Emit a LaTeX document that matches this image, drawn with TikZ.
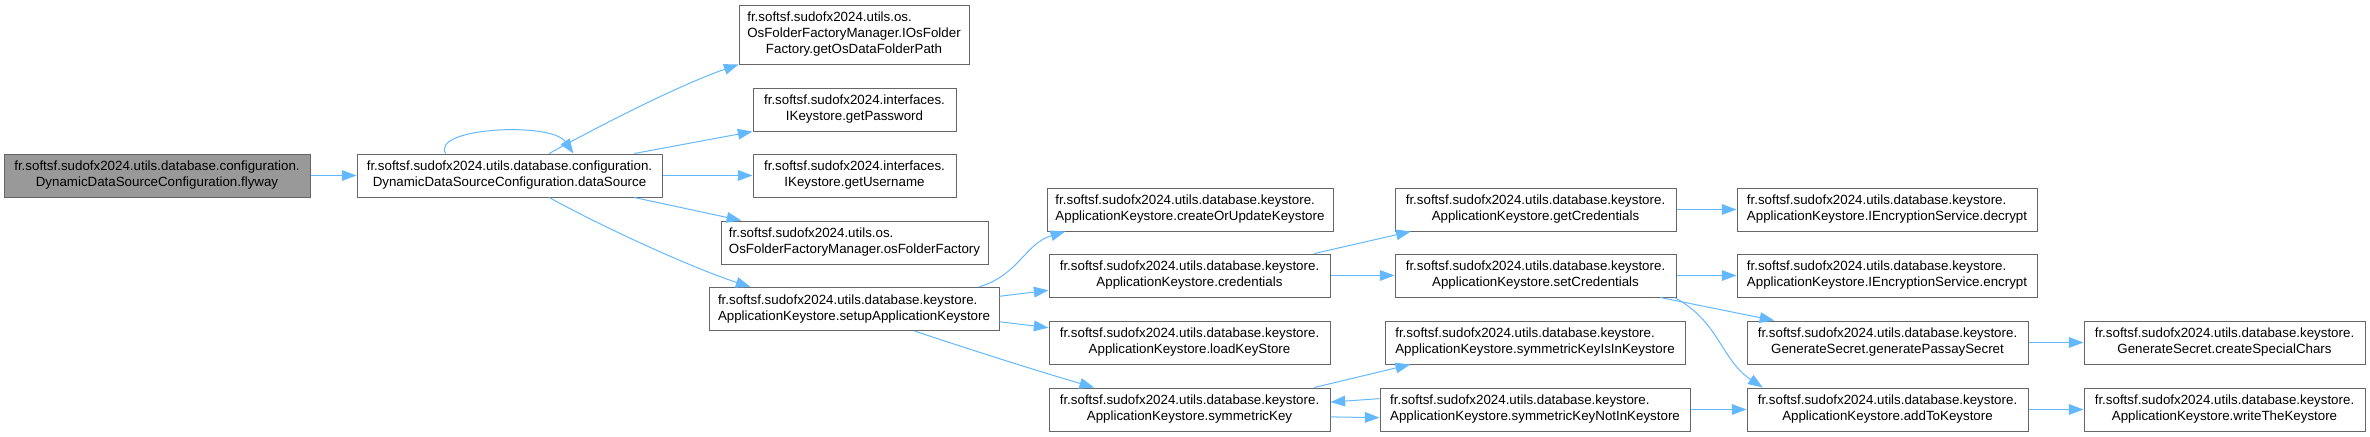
\documentclass[tikz,border=0pt]{standalone}
\usepackage{fontspec}
\setmainfont{Liberation Sans}
\usetikzlibrary{arrows.meta}
\definecolor{edgeblue}{HTML}{63B8FF}
\definecolor{nodeborder}{HTML}{666666}
\definecolor{rootfill}{HTML}{999999}
\newcommand{\twol}[2]{\begin{tabular}{@{}l@{}}#1\\\multicolumn{1}{@{}c@{}}{#2}\end{tabular}}
\newcommand{\threel}[3]{\begin{tabular}{@{}l@{}}#1\\#2\\\multicolumn{1}{@{}c@{}}{#3}\end{tabular}}
\newcommand{\ks}{fr.softsf.sudofx2024.utils.database.keystore.}
\newcommand{\cfg}{fr.softsf.sudofx2024.utils.database.configuration.}
\begin{document}
\begin{tikzpicture}[x=0.75pt,y=-0.75pt,
  box/.style={draw=nodeborder, line width=0.75pt, fill=white, rectangle, inner xsep=2pt, inner ysep=0pt,
    minimum height=32.25pt, font=\fontsize{10}{12}\selectfont, text=black},
  wpx/.style={minimum width=#1*0.75pt},
  hpx/.style={minimum height=#1*0.75pt},
  root/.style={box, fill=rootfill},
  call/.style={draw=edgeblue, line width=0.75pt, -{Triangle[length=11pt,width=8pt]}}]
\useasboundingbox (0,0) rectangle (2370,436);

\node[root, wpx=306] (fw) at (157,175.5) {\twol{\cfg}{DynamicDataSourceConfiguration.flyway}};
\node[box, wpx=305] (ds) at (509.5,175.5) {\twol{\cfg}{DynamicDataSourceConfiguration.dataSource}};
\node[box, wpx=230, hpx=59] (osdf) at (854,34.5) {\threel{fr.softsf.sudofx2024.utils.os.}{OsFolderFactoryManager.IOsFolder}{Factory.getOsDataFolderPath}};
\node[box, wpx=203] (gp) at (854.5,109.5) {\twol{fr.softsf.sudofx2024.interfaces.}{IKeystore.getPassword}};
\node[box, wpx=203] (gu) at (854.5,175.5) {\twol{fr.softsf.sudofx2024.interfaces.}{IKeystore.getUsername}};
\node[box, wpx=267] (ofm) at (854.5,242.5) {\twol{fr.softsf.sudofx2024.utils.os.}{OsFolderFactoryManager.osFolderFactory}};
\node[box, wpx=290] (setup) at (854,309) {\twol{\ks}{ApplicationKeystore.setupApplicationKeystore}};
\node[box, wpx=286] (cou) at (1190,209.5) {\twol{\ks}{ApplicationKeystore.createOrUpdateKeystore}};
\node[box, wpx=281] (cr) at (1189.5,275.5) {\twol{\ks}{ApplicationKeystore.credentials}};
\node[box, wpx=281] (lks) at (1189.5,342.5) {\twol{\ks}{ApplicationKeystore.loadKeyStore}};
\node[box, wpx=281] (sk) at (1189.5,409.5) {\twol{\ks}{ApplicationKeystore.symmetricKey}};
\node[box, wpx=281] (gc) at (1535.5,209.5) {\twol{\ks}{ApplicationKeystore.getCredentials}};
\node[box, wpx=281] (sc) at (1535.5,275.5) {\twol{\ks}{ApplicationKeystore.setCredentials}};
\node[box, wpx=300] (ski) at (1535,342.5) {\twol{\ks}{ApplicationKeystore.symmetricKeyIsInKeystore}};
\node[box, wpx=310] (skn) at (1535,409.5) {\twol{\ks}{ApplicationKeystore.symmetricKeyNotInKeystore}};
\node[box, wpx=300] (dec) at (1887,209.5) {\twol{\ks}{ApplicationKeystore.IEncryptionService.decrypt}};
\node[box, wpx=300] (enc) at (1887,275.5) {\twol{\ks}{ApplicationKeystore.IEncryptionService.encrypt}};
\node[box, wpx=281] (gps) at (1887.5,342.5) {\twol{\ks}{GenerateSecret.generatePassaySecret}};
\node[box, wpx=281] (atk) at (1887.5,409.5) {\twol{\ks}{ApplicationKeystore.addToKeystore}};
\node[box, wpx=281] (csc) at (2224.5,342.5) {\twol{\ks}{GenerateSecret.createSpecialChars}};
\node[box, wpx=281] (wtk) at (2224.5,409.5) {\twol{\ks}{ApplicationKeystore.writeTheKeystore}};

\draw[call] (fw.east) -- (ds.west);
\draw[call] (ds.161) .. controls +(-15,-26) and +(-22,-32) .. (ds.19.6);
\draw[call] (ds.29.2) .. controls +(60,-33) and +(-55,19) .. (osdf.south west);
\draw[call] (ds.10.7) -- (gp.south west);
\draw[call] (ds.east) -- (gu.west);
\draw[call] (ds.-10.7) -- (ofm.169.5);
\draw[call] (ds.-29.2) .. controls +(60,33) and +(-55,-18) .. (setup.168.6);
\draw[call] (setup.10.9) .. controls +(40,-12) and +(-40,12) .. (cou.190.8);
\draw[call] (setup.5.5) -- (cr.186.25);
\draw[call] (setup.-5.5) -- (lks.174.15);
\draw[call] (setup.-20.4) .. controls +(60,20) and +(-55,-16) .. (sk.167.8);
\draw[call] (cr.10.7) -- (gc.190.5);
\draw[call] (cr.east) -- (sc.west);
\draw[call] (gc.east) -- (dec.west);
\draw[call] (sc.east) -- (enc.west);
\draw[call] (sc.-10.9) -- (gps.169.6);
\draw[call] (sc.-9.3) .. controls +(45,24) and +(-42,-28) .. (atk.170.6);
\draw[call] (sk.10.7) -- (ski.190.6);
\draw[call] (sk.-3.3) -- (skn.183.1);
\draw[call] (skn.176.5) -- (sk.3.9);
\draw[call] (skn.east) -- (atk.west);
\draw[call] (gps.east) -- (csc.west);
\draw[call] (atk.east) -- (wtk.west);
\end{tikzpicture}
\end{document}
